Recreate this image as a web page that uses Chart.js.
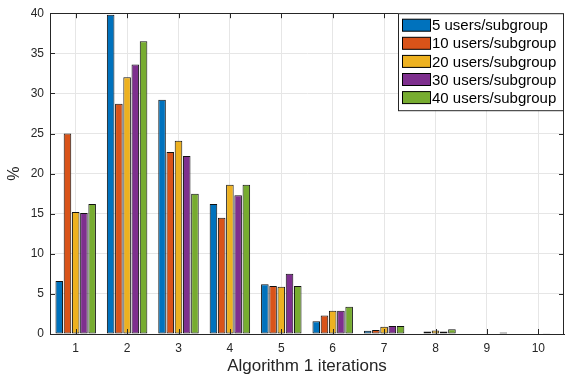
<!DOCTYPE html>
<html>
<head>
<meta charset="utf-8">
<script src="https://cdn.jsdelivr.net/npm/chart.js@4/dist/chart.umd.min.js"></script>
<style>
    html, body { margin: 0; padding: 0; background: #fff; }
    #wrap { width: 566px; height: 384px; }
</style>
</head>
<body>
<div id="wrap"><canvas id="iterChart" width="566" height="384"></canvas></div>
<script>
const iterations = ['1', '2', '3', '4', '5', '6', '7', '8', '9', '10'];

const users5 = [6.6, 39.8, 29.2, 16.2, 6.2, 1.6, 0.4, 0, 0, 0];
const users10 = [25.0, 28.7, 22.7, 14.5, 6.0, 2.3, 0.5, 0.3, 0, 0];
const users20 = [15.2, 32.0, 24.1, 18.6, 5.9, 2.9, 0.9, 0.45, 0, 0];
const users30 = [15.1, 33.6, 22.2, 17.3, 7.5, 2.9, 1.0, 0.3, 0, 0.1];
const users40 = [16.2, 36.5, 17.5, 18.6, 6.0, 3.4, 1.0, 0.6, 0.2, 0];

const seriesNames = ['5 users/subgroup', '10 users/subgroup', '20 users/subgroup', '30 users/subgroup', '40 users/subgroup'];
const seriesValues = [users5, users10, users20, users30, users40];

const colors = ['#0072BD', '#D95319', '#EDB120', '#7E2F8E', '#77AC30'];

const axisColor = '#262626';
const gridColor = '#e6e6e6';
const fontFamily = 'Arial, "Liberation Sans", Helvetica, sans-serif';

// box around the axes plus inward tick marks (matlab style)
const boxPlugin = {
    id: 'boxPlugin',
    afterDatasetsDraw(chart) {
        const ctx = chart.ctx;
        const area = chart.chartArea;
        const x = chart.scales.x;
        const y = chart.scales.y;
        ctx.save();
        ctx.strokeStyle = axisColor;
        ctx.lineWidth = 1;
        ctx.beginPath();
        x.ticks.forEach((t, i) => {
            const px = Math.round(x.getPixelForTick(i)) + 0.5;
            ctx.moveTo(px, area.bottom);
            ctx.lineTo(px, area.bottom - 5);
            ctx.moveTo(px, area.top);
            ctx.lineTo(px, area.top + 5);
        });
        y.ticks.forEach((t) => {
            const py = Math.round(y.getPixelForValue(t.value)) + 0.5;
            ctx.moveTo(area.left, py);
            ctx.lineTo(area.left + 5, py);
            ctx.moveTo(area.right, py);
            ctx.lineTo(area.right - 5, py);
        });
        ctx.stroke();
        ctx.strokeRect(Math.round(area.left) + 0.5, Math.round(area.top) + 0.5,
            Math.round(area.right - area.left) - 1, Math.round(area.bottom - area.top));
        ctx.restore();
    },
    afterDraw(chart) {
        // legend inside the upper right corner
        const ctx = chart.ctx;
        const area = chart.chartArea;
        const left = 398, top = area.top, right = area.right, height = 97;
        ctx.save();
        ctx.fillStyle = '#fff';
        ctx.fillRect(left, top, right - left, height);
        ctx.strokeStyle = '#262626';
        ctx.lineWidth = 1;
        ctx.strokeRect(left + 0.5, top + 0.5, right - left - 1, height);
        ctx.font = '15px ' + fontFamily;
        ctx.textBaseline = 'middle';
        chart.data.datasets.forEach((ds, i) => {
            const cy = top + 12 + i * 18.1;
            ctx.fillStyle = ds.backgroundColor;
            ctx.fillRect(402.5, cy - 6, 28, 12);
            ctx.strokeStyle = '#000';
            ctx.strokeRect(402.5, cy - 6, 28, 12);
            ctx.fillStyle = '#000';
            ctx.fillText(ds.label, 432, cy + 1);
        });
        ctx.restore();
    }
};

const datasets = seriesNames.map((name, i) => ({
    label: name,
    data: seriesValues[i],
    backgroundColor: colors[i],
    borderColor: '#111',
    borderWidth: 1,
    borderSkipped: false,
    categoryPercentage: 0.8,
    barPercentage: 0.92
}));

const config = {
    type: 'bar',
    data: {
        labels: iterations,
        datasets: datasets
    },
    options: {
        responsive: false,
        animation: false,
        layout: {
            padding: { top: 5, right: 2, left: 0, bottom: 0 }
        },
        plugins: {
            legend: { display: false },
            tooltip: { enabled: false }
        },
        scales: {
            x: {
                grid: {
                    offset: false,
                    color: gridColor,
                    drawTicks: false
                },
                border: { display: true, color: axisColor },
                ticks: {
                    color: axisColor,
                    padding: 7,
                    font: { family: fontFamily, size: 12 }
                },
                title: {
                    display: true,
                    text: 'Algorithm 1 iterations',
                    color: axisColor,
                    padding: { top: 0, bottom: 7 },
                    font: { family: fontFamily, size: 17 }
                },
                afterFit(scale) {
                    scale.height = 50;
                }
            },
            y: {
                min: 0,
                max: 40,
                ticks: {
                    stepSize: 5,
                    color: axisColor,
                    padding: 6,
                    font: { family: fontFamily, size: 12 }
                },
                grid: {
                    color: gridColor,
                    drawTicks: false
                },
                border: { display: true, color: axisColor },
                title: {
                    display: true,
                    text: '%',
                    color: axisColor,
                    padding: { top: 5, bottom: 0 },
                    font: { family: fontFamily, size: 16 }
                },
                afterFit(scale) {
                    scale.width = 50;
                }
            }
        }
    },
    plugins: [boxPlugin]
};

const ctx = document.getElementById('iterChart').getContext('2d');
const chart = new Chart(ctx, config);
</script>
</body>
</html>
